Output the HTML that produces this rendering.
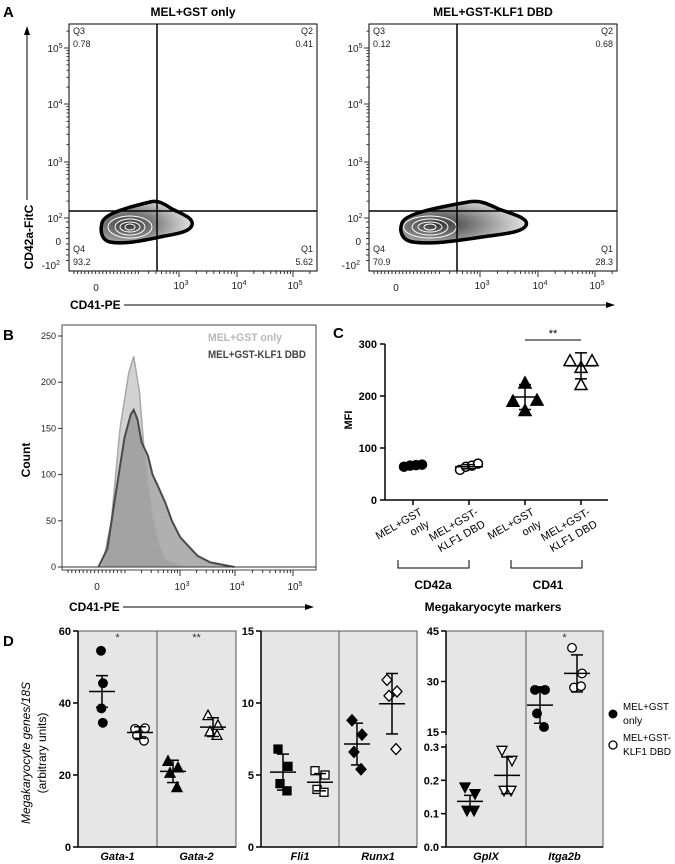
<!DOCTYPE html>
<html><head><meta charset="utf-8">
<style>
html,body{margin:0;padding:0;background:#fff;}
svg{display:block;font-family:"Liberation Sans",sans-serif;}
</style></head>
<body>
<svg id="fig" width="675" height="864" viewBox="0 0 675 864" xmlns="http://www.w3.org/2000/svg">
<defs>
<radialGradient id="blobg" cx="0.3" cy="0.55" r="0.75">
<stop offset="0" stop-color="#333"/><stop offset="0.35" stop-color="#777"/><stop offset="0.7" stop-color="#bbb"/><stop offset="1" stop-color="#eee"/>
</radialGradient>
</defs>
<g id="gA"></g>
<g id="gB"></g>
<g id="gC"></g>
<g id="gD"></g>
</svg>
<script>
// ---------- DATA ----------
const aTitles = ["MEL+GST only", "MEL+GST-KLF1 DBD"];
const aQ1 = ["5.62", "28.3"];
const aQ2 = ["0.41", "0.68"];
const aQ3 = ["0.78", "0.12"];
const aQ4 = ["93.2", "70.9"];
const bChanLight = [162,199,234,269,289,312,330,347,365,391,416,460,495];
const bCountLight = [0,50,150,210,228,190,130,90,55,25,8,3,0];
const bChanDark = [147,183,217,252,277,289,304,321,347,365,391,416,443,477,512,547,598,695];
const bCountDark = [0,20,80,140,165,170,160,135,120,100,85,70,50,32,22,12,5,0];
const bYTicks = [0,50,100,150,200,250];
const cCats = ["MEL+GST|only","MEL+GST-|KLF1 DBD","MEL+GST|only","MEL+GST-|KLF1 DBD"];
const cVals = [[64,66,67,68],[58,64,66,70],[225,190,192,172],[268,268,255,222]];
const cMean = [65,64,198,258];
const cSD = [3,4,24,25];
const cYTicks = [0,100,200,300];
const dGenes = ["Gata-1","Gata-2","Fli1","Runx1","GpIX","Itga2b"];
const dGst = [[54.5,45.5,38.5,34.5],[23.8,22,20.5,16.5],[6.8,5.6,4.4,3.9],[8.8,7.8,6.6,5.4],[0.18,0.16,0.11,0.11],[27.5,27.5,20.5,16.5]];
const dKlf = [[32.8,33,31,29.5],[36.5,33.8,32,31],[5.3,5.0,4.0,3.8],[11.6,10.8,10.5,6.8],[0.29,0.26,0.17,0.17],[40,32.4,28.2,28.6]];
const dGstMean = [43.2,21,5.2,7.15,0.137,23];
const dGstSD = [4.4,3.1,1.25,1.45,0.018,5.4];
const dKlfMean = [31.8,33.3,4.5,9.95,0.215,32.4];
const dKlfSD = [1.6,2.6,0.6,2.1,0.055,5.5];
const dStars = ["*","**","","","","*"];
const dTicks1 = [0,20,40,60];
const dTicks2 = [0,5,10,15];
const dTicksLow = [0.0,0.1,0.2,0.3];
const dTicksHigh = [15,30,45];

// ---------- HELPERS ----------
const NS="http://www.w3.org/2000/svg";
function mk(tag,parent,attrs,txt){const e=document.createElementNS(NS,tag);for(const k in attrs)e.setAttribute(k,attrs[k]);if(txt!==undefined)e.textContent=txt;parent.appendChild(e);return e;}
function line(p,x1,y1,x2,y2,w,c){return mk('line',p,{x1,y1,x2,y2,stroke:c||'#000','stroke-width':w||1});}
function txt(p,x,y,s,size,opts){opts=opts||{};const e=mk('text',p,{x,y,'font-size':size,'text-anchor':opts.a||'start',fill:opts.f||'#000','font-weight':opts.b?'bold':'normal','font-style':opts.i?'italic':'normal'},s);if(opts.t)e.setAttribute('transform',opts.t);if(opts.L){e.setAttribute('textLength',opts.L);e.setAttribute('lengthAdjust','spacingAndGlyphs');}return e;}
function sup(p,x,y,base,exp,size){const e=mk('text',p,{x,y,'font-size':size,'text-anchor':'middle',fill:'#222'});mk('tspan',e,{},base);mk('tspan',e,{dy:-4,'font-size':size-3},exp);return e;}

// ---------- PANEL A ----------
const gA=document.getElementById('gA');
txt(gA,3,17,"A",15,{b:true});
const yLog={5:48,4:104,3:162,2:218};
const aFrames=[{x0:69,x1:317,gx:157,xt:{0:96,3:179,4:237,5:293}},{x0:369,x1:617,gx:457,xt:{0:396,3:480,4:538,5:595}}];
aFrames.forEach((F,i)=>{
  const g=mk('g',gA,{});
  
  
  txt(g,(F.x0+F.x1)/2,16,aTitles[i],12,{a:'middle',b:true});
  mk('rect',g,{x:F.x0,y:24,width:F.x1-F.x0,height:247,fill:'#fff',stroke:'#000','stroke-width':1});
  const ox=i===0?0:300;
  const sx=i===0?1:1.38;
  function P(x,y){return ((x-102)*sx+102+ox)+','+y;}
  const blob=mk('path',g,{d:`M${P(102,223)} C${P(104,214)} ${P(125,208)} ${P(150,202)} C${P(158,200)} ${P(163,203)} ${P(172,209)} C${P(182,214)} ${P(194,218)} ${P(192,225)} C${P(190,232)} ${P(176,234)} ${P(165,236)} C${P(145,240)} ${P(125,245)} ${P(110,242)} C${P(101,240)} ${P(100,230)} ${P(102,223)} Z`,fill:'url(#blobg)',stroke:'#000','stroke-width':3.5});
  
  const cx=i===0?130:430, cy=227;
  [[22,11],[15,8],[10,5],[5,3]].forEach(r=>{mk('ellipse',g,{cx:cx,cy:cy,rx:r[0]*(i===0?1:1.2),ry:r[1],fill:'none',stroke:'#fff','stroke-width':1});});
  line(g,F.gx,24,F.gx,271,1.5);
  line(g,F.x0,211,F.x1,211,1.5);
  txt(g,F.x0+4,34,"Q3",9,{f:'#222'});txt(g,F.x0+4,47,aQ3[i],9,{f:'#222'});
  txt(g,F.x1-4,34,"Q2",9,{f:'#222',a:'end'});txt(g,F.x1-4,47,aQ2[i],9,{f:'#222',a:'end'});
  txt(g,F.x0+4,252,"Q4",9,{f:'#222'});txt(g,F.x0+4,265,aQ4[i],9,{f:'#222'});
  txt(g,F.x1-4,252,"Q1",9,{f:'#222',a:'end'});txt(g,F.x1-4,265,aQ1[i],9,{f:'#222',a:'end'});
  [5,4,3,2].forEach(d=>{line(g,F.x0-5,yLog[d],F.x0,yLog[d],1,'#333');sup(g,F.x0-14,yLog[d]+4,'10',String(d),10);
    if(d>2){for(let m=2;m<10;m++){const yy=yLog[d-1]-(yLog[d-1]-yLog[d])*Math.log10(m);line(g,F.x0-2.5,yy,F.x0,yy,1,'#333');}}
  });
  for(let m=2;m<10;m++){const yy=yLog[5]-(yLog[4]-yLog[5])*Math.log10(m);if(yy>26)line(g,F.x0-2.5,yy,F.x0,yy,1,'#333');}
  for(let k=0;k<8;k++){line(g,F.x0-3,222+k*5.5,F.x0,222+k*5.5,1,'#333');}
  txt(g,F.x0-8,245,"0",10,{a:'end',f:'#222'});
  const nt=mk('text',g,{x:F.x0-9,y:269,'font-size':10,'text-anchor':'end',fill:'#222'});mk('tspan',nt,{},'-10');mk('tspan',nt,{dy:-4,'font-size':7},'2');
  [3,4,5].forEach(d=>{const xx=F.xt[d];line(g,xx,271,xx,277,1,'#333');sup(g,xx+2,289,'10',String(d),10);
    const prev=d===3?null:F.xt[d-1];
    for(let m=2;m<10;m++){const x2=(prev===null? xx-(F.xt[4]-xx)*(1-Math.log10(m)) : prev+(xx-prev)*Math.log10(m));line(g,x2,271,x2,274,1,'#333');}
  });
  for(let m=2;m<10;m++){const x2=F.xt[5]+(F.xt[5]-F.xt[4])*Math.log10(m);if(x2<F.x1)line(g,x2,271,x2,274,1,'#333');}
  for(let k=0;k<18;k++){line(g,F.x0+5+k*3.6,271,F.x0+5+k*3.6,274,1,'#333');}
  txt(g,F.xt[0],291,"0",10,{a:'middle',f:'#222'});
});
const axA=mk('g',gA,{});
line(axA,27,200,27,33,1);mk('path',axA,{d:'M24,35 L27,26 L30,35 Z',fill:'#000'});
txt(axA,33,237,"CD42a-FitC",12,{a:'middle',b:true,t:'rotate(-90 33 237)'});
txt(axA,70,309,"CD41-PE",12,{b:true});
line(axA,124,305,607,305,1);mk('path',axA,{d:'M606,302 L615,305 L606,308 Z',fill:'#000'});

// ---------- PANEL B ----------
const gB=document.getElementById('gB');
txt(gB,3,340,"B",15,{b:true});
const bx0=62,bx1=316,by0=325,by1=570;
const bX=c=>bx0+c/1024*(bx1-bx0);
const bY=v=>567-v*0.924;
mk('rect',gB,{x:bx0,y:by0,width:bx1-bx0,height:by1-by0,fill:'#fff',stroke:'#444','stroke-width':1});
function histPath(ch,ct){let d=`M${bX(ch[0])},${bY(0)}`;ch.forEach((c,k)=>{d+=` L${bX(c)},${bY(ct[k])}`;});return d;}
const hl=mk('path',gB,{d:histPath(bChanLight,bCountLight)+' Z',fill:'#d2d2d2',stroke:'none'});

const hd=mk('path',gB,{d:histPath(bChanDark,bCountDark)+' Z',fill:'#8f8f8f','fill-opacity':0.7,stroke:'none'});

mk('path',gB,{d:histPath(bChanLight,bCountLight),fill:'none',stroke:'#a8a8a8','stroke-width':1.5});
mk('path',gB,{d:histPath(bChanDark,bCountDark),fill:'none',stroke:'#4a4a4a','stroke-width':2});
line(gB,bx0,567,bx1,567,1,'#333');
bYTicks.forEach(v=>{line(gB,bx0-4,bY(v),bx0,bY(v),1,'#333');txt(gB,bx0-6,bY(v)+3,String(v),9,{a:'end',f:'#222'});});
const bxt={0:97,3:180,4:235,5:293};
[3,4,5].forEach(d=>{line(gB,bxt[d],570,bxt[d],576,1,'#333');sup(gB,bxt[d]+2,590,'10',String(d),10);
  const prev=d===3?null:bxt[d-1];
  for(let m=2;m<10;m++){const x2=(prev===null? bxt[d]-(bxt[4]-bxt[d])*(1-Math.log10(m)) : prev+(bxt[d]-prev)*Math.log10(m));line(gB,x2,570,x2,573,1,'#333');}
});
for(let k=0;k<16;k++){line(gB,bx0+6+k*3.8,570,bx0+6+k*3.8,573,1,'#333');}
txt(gB,bxt[0],590,"0",10,{a:'middle',f:'#222'});
txt(gB,30,460,"Count",12,{a:'middle',b:true,t:'rotate(-90 30 460)'});
txt(gB,69,611,"CD41-PE",12,{b:true});
line(gB,123,607,306,607,1);mk('path',gB,{d:'M305,604 L314,607 L305,610 Z',fill:'#000'});
const lg1=txt(gB,208,341,"MEL+GST only",11,{b:true,f:'#b8b8b8',L:74});
const lg2=txt(gB,208,358,"MEL+GST-KLF1 DBD",11,{b:true,f:'#444',L:98});

// ---------- PANEL C ----------
const gC=document.getElementById('gC');
txt(gC,333,338,"C",15,{b:true});
const cX=[413,469,525,581];
const cY=v=>500-v*0.52;
line(gC,385,cY(300),385,500,1.5);line(gC,385,500,608,500,1.5);
cYTicks.forEach(v=>{line(gC,380,cY(v),385,cY(v),1.5);txt(gC,377,cY(v)+4,String(v),11,{a:'end',b:true});});
txt(gC,352,420,"MFI",11,{a:'middle',b:true,t:'rotate(-90 352 420)'});
const cOffs=[[-9,-3,3,9],[-9,-3,3,9],[0,-12,12,0],[-11,11,0,0]];
cCats.forEach((c,i)=>{
  const x=cX[i];
  line(gC,x,500,x,505,1.5);
  const parts=c.split('|');
  txt(gC,x+10,514,parts[0],11,{a:'end',t:`rotate(-30 ${x+10} 514)`});
  txt(gC,x+10,528,parts[1],11,{a:'end',t:`rotate(-30 ${x+10} 514)`});
  const filled=(i%2===0);
  cVals[i].forEach((v,k)=>{
    const px=x+cOffs[i][k], py=cY(v);
    let m;
    if(i<2){m=mk('circle',gC,{cx:px,cy:py,r:4.5,fill:filled?'#000':'#fff',stroke:'#000','stroke-width':1.5});}
    else{m=mk('path',gC,{d:`M${px},${py-6} L${px+6},${py+5} L${px-6},${py+5} Z`,fill:filled?'#000':'#fff',stroke:'#000','stroke-width':1.5});}
    
    
  });
  const mb=line(gC,x-14,cY(cMean[i]),x+14,cY(cMean[i]),1.5);
  
  line(gC,x,cY(cMean[i]-cSD[i]),x,cY(cMean[i]+cSD[i]),1.5);
  line(gC,x-6,cY(cMean[i]-cSD[i]),x+6,cY(cMean[i]-cSD[i]),1.5);
  line(gC,x-6,cY(cMean[i]+cSD[i]),x+6,cY(cMean[i]+cSD[i]),1.5);
});
line(gC,cX[2],340,cX[3],340,1);txt(gC,553,337,"**",11,{a:'middle'});
mk('path',gC,{d:'M398,560 L398,568 L469,568 L469,560',fill:'none',stroke:'#000','stroke-width':1});
mk('path',gC,{d:'M511,560 L511,568 L582,568 L582,560',fill:'none',stroke:'#000','stroke-width':1});
txt(gC,433,589,"CD42a",12,{a:'middle',b:true});
txt(gC,548,589,"CD41",12,{a:'middle',b:true});
txt(gC,493,611,"Megakaryocyte markers",12,{a:'middle',b:true});

// ---------- PANEL D ----------
const gD=document.getElementById('gD');
txt(gD,3,646,"D",15,{b:true});
const dTop=631,dBot=847;
const panels=[
 {x0:78,x1:236,div:157,max:60,ticks:dTicks1,genes:[0,1],cx:[[102,140],[173,213]]},
 {x0:261,x1:417,div:339,max:15,ticks:dTicks2,genes:[2,3],cx:[[283,320],[357,392]]},
 {x0:446,x1:603,div:526,split:true,genes:[4,5],cx:[[470,507],[540,577]]}
];
function yLowHigh(v,isHigh){ if(isHigh){return 732-(v-15)*(101/30);} return 847-v*(100/0.3);}
const shapes=['circle','tri','square','diamond','tridown','circle'];
function marker(p,shape,x,y,filled){
  const f=filled?'#000':'#fff';let e;
  if(shape==='circle')e=mk('circle',p,{cx:x,cy:y,r:4.3,fill:f,stroke:'#000','stroke-width':1.3});
  else if(shape==='square')e=mk('rect',p,{x:x-4,y:y-4,width:8,height:8,fill:f,stroke:'#000','stroke-width':1.3});
  else if(shape==='diamond')e=mk('path',p,{d:`M${x},${y-5.5} L${x+5},${y} L${x},${y+5.5} L${x-5},${y} Z`,fill:f,stroke:'#000','stroke-width':1.3});
  else if(shape==='tri')e=mk('path',p,{d:`M${x},${y-5.5} L${x+5},${y+4} L${x-5},${y+4} Z`,fill:f,stroke:'#000','stroke-width':1.3});
  else e=mk('path',p,{d:`M${x},${y+5.5} L${x+5},${y-4} L${x-5},${y-4} Z`,fill:f,stroke:'#000','stroke-width':1.3});
  
  
}
panels.forEach((P,pi)=>{
  const g=mk('g',gD,{});
  
  
  mk('rect',g,{x:P.x0,y:dTop,width:P.x1-P.x0,height:dBot-dTop,fill:'#e6e6e6',stroke:'#555','stroke-width':1});
  line(g,P.div,dTop,P.div,dBot,1,'#555');
  let yf;
  if(P.split){
    line(g,P.x0,dTop,P.x0,735,1.5);line(g,P.x0,744,P.x0,dBot,1.5);
    dTicksHigh.forEach(v=>{line(g,P.x0-5,yLowHigh(v,true),P.x0,yLowHigh(v,true),1.5);txt(g,P.x0-7,yLowHigh(v,true)+4,String(v),11,{a:'end',b:true});});
    dTicksLow.forEach(v=>{line(g,P.x0-5,yLowHigh(v,false),P.x0,yLowHigh(v,false),1.5);txt(g,P.x0-7,yLowHigh(v,false)+4,v.toFixed(1),11,{a:'end',b:true});});
  } else {
    yf=v=>dBot-v/P.max*(dBot-dTop);
    line(g,P.x0,dTop,P.x0,dBot,1.5);
    P.ticks.forEach(v=>{line(g,P.x0-5,yf(v),P.x0,yf(v),1.5);txt(g,P.x0-7,yf(v)+4,String(v),11,{a:'end',b:true});});
  }
  line(g,P.x0,dBot,P.x1,dBot,1.5);
  P.genes.forEach((gi,j)=>{
    const Y=P.split?(v=>yLowHigh(v,gi===5)):yf;
    const xc=(j===0?(P.x0+P.div)/2:(P.div+P.x1)/2);
    txt(g,xc,860,dGenes[gi],11,{a:'middle',b:true,i:true});
    if(dStars[gi])txt(g,xc,641,dStars[gi],11,{a:'middle',f:'#333'});
    [[dGst,dGstMean,dGstSD,true],[dKlf,dKlfMean,dKlfSD,false]].forEach((S,si)=>{
      const x=P.cx[j][si];
      const off=[-5,5,-3,4];
      S[0][gi].forEach((v,k)=>marker(g,shapes[gi],x+off[k]*(gi===0&&si===0?0.2:1),Y(v),S[3]));
      const m=S[1][gi],s=S[2][gi];
      line(g,x-13,Y(m),x+13,Y(m),1.5);
      line(g,x,Y(m-s),x,Y(m+s),1.5);
      line(g,x-6,Y(m-s),x+6,Y(m-s),1.5);
      line(g,x-6,Y(m+s),x+6,Y(m+s),1.5);
    });
  });
});
txt(gD,30,753,"Megakaryocyte genes/18S",12,{a:'middle',i:true,t:'rotate(-90 30 753)'});
txt(gD,46,753,"(arbitrary units)",12,{a:'middle',t:'rotate(-90 46 753)'});
const dl=mk('g',gD,{});
mk('circle',dl,{cx:613,cy:714,r:4.5,fill:'#000'});
txt(dl,623,710,"MEL+GST",10.5,{L:46});txt(dl,623,724,"only",10.5);
mk('circle',dl,{cx:613,cy:745,r:4,fill:'#fff',stroke:'#000','stroke-width':1.3});
txt(dl,623,741,"MEL+GST-",10.5,{L:48});txt(dl,623,755,"KLF1 DBD",10.5,{L:48});
</script>
</body></html>
